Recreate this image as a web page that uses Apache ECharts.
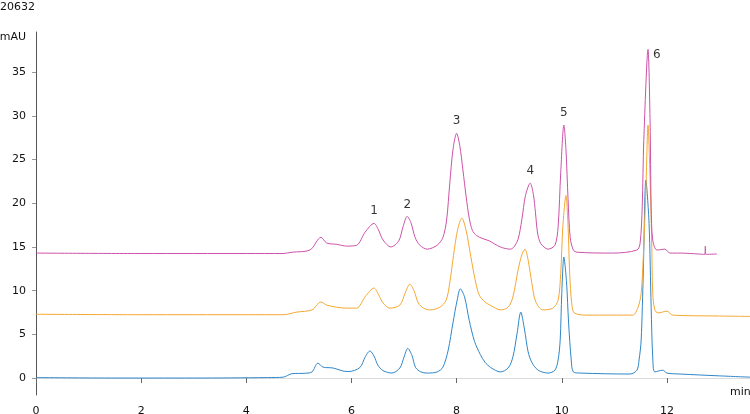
<!DOCTYPE html>
<html>
<head>
<meta charset="utf-8">
<title>20632</title>
<script src="https://cdn.jsdelivr.net/npm/echarts@6/dist/echarts.min.js"></script>
<style>
  html, body { margin: 0; padding: 0; background: #fff; }
  #chart { width: 750px; height: 414px; }
</style>
</head>
<body>
<div id="chart"></div>
<script>
// traces: [time (min), signal (mAU)]
const blueTrace = [
  [0, 0.05], [1.5, 0.0], [3, 0.0], [4.4, 0.05], [4.7, 0.1], [4.87, 0.5], [5.12, 0.55], [5.25, 0.7],
  [5.36, 1.7], [5.46, 1.25], [5.65, 1.15], [5.84, 0.8], [5.95, 0.75], [6.16, 1.2], [6.26, 2.4],
  [6.35, 3.1], [6.43, 2.5], [6.5, 1.5], [6.6, 0.85], [6.77, 0.57], [6.92, 1.15], [7.0, 2.4],
  [7.07, 3.4], [7.15, 2.6], [7.22, 1.2], [7.32, 0.7], [7.44, 0.57], [7.63, 0.7], [7.74, 1.25],
  [7.84, 3.2], [7.93, 6.3], [8.01, 8.9], [8.07, 10.2], [8.15, 9.3], [8.24, 6.6], [8.34, 4.2],
  [8.45, 2.7], [8.54, 1.8], [8.65, 1.2], [8.83, 0.7], [8.98, 1.15], [9.07, 2.4], [9.15, 5.1],
  [9.22, 7.55], [9.29, 5.6], [9.36, 3.0], [9.43, 1.8], [9.55, 0.9], [9.74, 0.57], [9.87, 0.9],
  [9.93, 2.06], [9.97, 4.35], [10.0, 9.7], [10.04, 13.85], [10.09, 11.0], [10.13, 6.3], [10.18, 2.06],
  [10.22, 0.7], [10.35, 0.57], [11.3, 0.46], [11.43, 0.9], [11.47, 2.06], [11.51, 4.35], [11.55, 12.0],
  [11.6, 22.65], [11.66, 17.7], [11.7, 8.1], [11.73, 2.4], [11.77, 0.7], [11.92, 0.9], [12.0, 0.57],
  [12.25, 0.46], [13.0, 0.25], [13.58, 0.1]
];

const orangeTrace = [
  [0, 7.3], [2, 7.25], [4, 7.25], [4.7, 7.25], [4.96, 7.55], [5.25, 7.8], [5.42, 8.7], [5.53, 8.35],
  [5.72, 8.1], [5.91, 8.0], [6.1, 8.0], [6.26, 9.3], [6.43, 10.3], [6.51, 9.6], [6.6, 8.6],
  [6.73, 8.0], [6.92, 8.35], [7.02, 9.7], [7.11, 10.75], [7.19, 10.0], [7.27, 8.6], [7.37, 8.0],
  [7.49, 7.8], [7.68, 8.1], [7.8, 8.9], [7.87, 10.9], [7.94, 14.0], [8.02, 17.0], [8.1, 18.3],
  [8.18, 16.9], [8.27, 13.9], [8.35, 11.3], [8.43, 9.5], [8.54, 8.7], [8.65, 8.3], [8.83, 7.8],
  [8.98, 8.1], [9.07, 9.27], [9.17, 12.4], [9.24, 14.1], [9.3, 14.75], [9.36, 13.5], [9.43, 10.9],
  [9.5, 8.8], [9.64, 7.8], [9.83, 8.0], [9.93, 8.9], [9.98, 12.0], [10.02, 17.3], [10.08, 20.9],
  [10.12, 17.3], [10.15, 12.0], [10.19, 8.5], [10.24, 7.45], [10.48, 7.2], [11.35, 7.2], [11.45, 8.1],
  [11.51, 9.7], [11.55, 13.85], [11.6, 21.5], [11.64, 28.95], [11.68, 22.65], [11.71, 15.8],
  [11.73, 9.7], [11.77, 7.8], [11.83, 7.45], [12.0, 7.65], [12.11, 7.2], [13.0, 7.1], [13.58, 7.05]
];

const pinkTrace = [
  [0, 14.3], [2, 14.25], [4, 14.25], [4.7, 14.25], [4.87, 14.4], [5.21, 14.65], [5.42, 16.1],
  [5.53, 15.45], [5.72, 15.3], [5.91, 15.1], [6.1, 15.2], [6.26, 16.7], [6.43, 17.7], [6.51, 17.0],
  [6.6, 15.8], [6.75, 15.0], [6.9, 15.7], [6.98, 17.3], [7.06, 18.5], [7.13, 17.8], [7.21, 16.1],
  [7.3, 15.2], [7.44, 14.75], [7.63, 15.2], [7.74, 16.1], [7.81, 18.1], [7.87, 22.3], [7.93, 26.1],
  [8.0, 28.0], [8.06, 26.6], [8.12, 23.8], [8.18, 20.8], [8.24, 18.3], [8.3, 16.9], [8.38, 16.3],
  [8.5, 15.95], [8.62, 15.7], [8.83, 15.0], [9.02, 14.75], [9.09, 15.0], [9.17, 15.9], [9.24, 18.1],
  [9.31, 20.9], [9.4, 22.3], [9.46, 21.0], [9.5, 18.9], [9.54, 16.6], [9.6, 15.4], [9.74, 14.75],
  [9.87, 15.2], [9.93, 17.3], [9.98, 23.5], [10.04, 28.95], [10.08, 26.1], [10.12, 20.4],
  [10.16, 16.1], [10.22, 14.65], [10.29, 14.4], [10.97, 14.3], [11.43, 14.65], [11.49, 15.45],
  [11.53, 19.6], [11.56, 27.2], [11.64, 37.6], [11.68, 29.2], [11.7, 19.6], [11.73, 15.8],
  [11.81, 14.65], [11.96, 14.75], [12.06, 14.3], [12.25, 14.3], [12.72, 14.15], [12.73, 15.1],
  [12.74, 14.15], [12.95, 14.2]
];

// numbered peaks on the top trace
const peakNames = ['1', '2', '3', '4', '5', '6'];
const peakTimes = [6.43, 7.06, 8.0, 9.4, 10.04, 11.64];
const peakHeights = [17.7, 18.5, 28.0, 22.3, 28.95, 37.6];

const xTicks = [0, 2, 4, 6, 8, 10, 12];
const yTicks = [0, 5, 10, 15, 20, 25, 30, 35];

const font = 'DejaVu Sans';
const myChart = echarts.init(document.getElementById('chart'));

const traceSeries = (data, color) => ({
  type: 'line',
  data: data,
  showSymbol: false,
  smooth: 0.3,
  lineStyle: { width: 1, color: color },
  itemStyle: { color: color },
  silent: true
});

const option = {
  animation: false,
  title: {
    text: '20632',
    left: 0,
    top: 2,
    padding: 0,
    textStyle: { fontFamily: font, fontSize: 11, fontWeight: 'normal', color: '#111' }
  },
  grid: { left: 36, right: 0, top: 32, bottom: 19, outerBoundsMode: 'none' },
  xAxis: {
    type: 'value',
    min: 0,
    max: 13.58,
    name: 'min',
    nameLocation: 'end',
    nameGap: -20,
    nameTextStyle: {
      fontFamily: font, fontSize: 11, color: '#111',
      align: 'left', verticalAlign: 'top', padding: [9, 0, 0, 0]
    },
    axisLine: { show: true, lineStyle: { color: '#dcdcdc' } },
    axisTick: { show: true, length: 5, customValues: xTicks, lineStyle: { color: '#666' } },
    axisLabel: { customValues: xTicks, margin: 11, fontFamily: font, fontSize: 11, color: '#111' },
    splitLine: { show: false }
  },
  yAxis: {
    type: 'value',
    min: -1.94,
    max: 39.6,
    name: 'mAU',
    nameLocation: 'end',
    nameGap: 0,
    nameTextStyle: {
      fontFamily: font, fontSize: 11, color: '#111',
      align: 'right', verticalAlign: 'top', padding: [0, 10, 0, 0]
    },
    axisLine: { show: true, lineStyle: { color: '#555' } },
    axisTick: { show: true, length: 4, customValues: yTicks, lineStyle: { color: '#999' } },
    axisLabel: { customValues: yTicks, margin: 10, fontFamily: font, fontSize: 11, color: '#111' },
    splitLine: { show: false }
  },
  series: [
    traceSeries(blueTrace, '#2f86c8'),
    traceSeries(orangeTrace, '#f5a733'),
    traceSeries(pinkTrace, '#cc52a8'),
    {
      type: 'scatter',
      symbolSize: 0,
      silent: true,
      data: peakNames.map((n, i) => ({
        name: n,
        value: [peakTimes[i], peakHeights[i]],
        label: i === 5
          ? { position: 'right', distance: 5, offset: [0, 5] }
          : { position: 'top', distance: 6 }
      })),
      label: {
        show: true,
        formatter: p => p.name,
        fontFamily: font,
        fontSize: 12,
        color: '#000'
      }
    }
  ]
};

myChart.setOption(option);
</script>
</body>
</html>
